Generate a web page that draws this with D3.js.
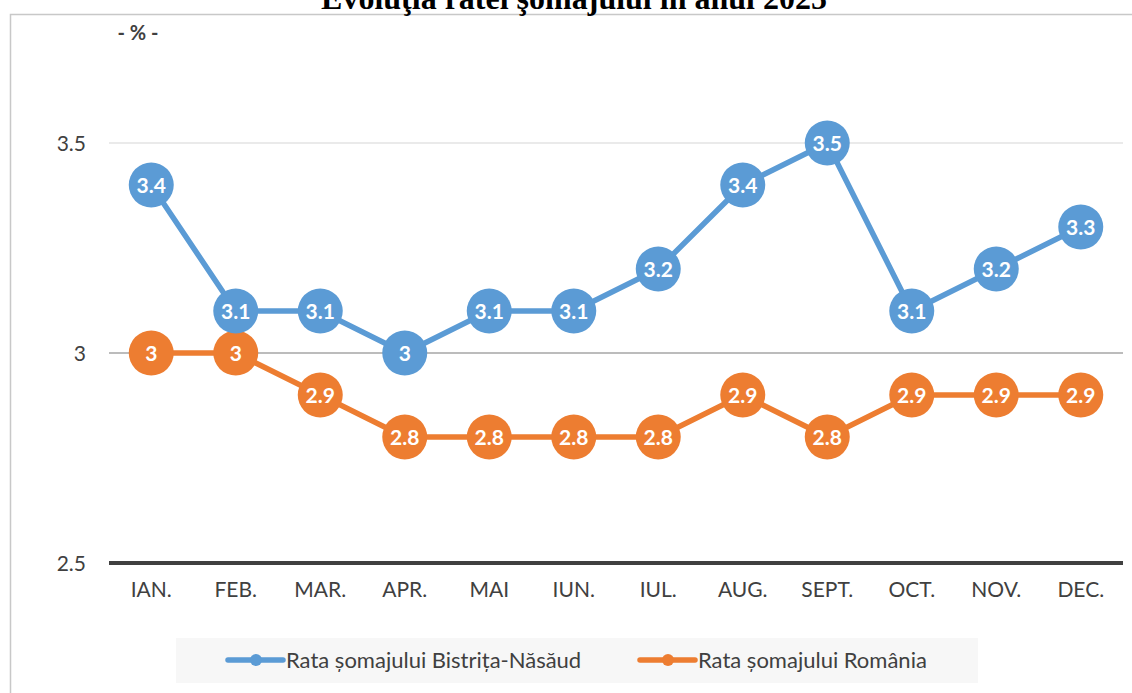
<!DOCTYPE html>
<html>
<head>
<meta charset="utf-8">
<script src="https://cdn.jsdelivr.net/npm/d3@7"></script>
<style>
  html, body { margin: 0; padding: 0; background: #fff; }
  svg { display: block; }
</style>
</head>
<body>
<svg id="chart" width="1132" height="693"></svg>
<script>
const months = ["IAN.", "FEB.", "MAR.", "APR.", "MAI", "IUN.", "IUL.", "AUG.", "SEPT.", "OCT.", "NOV.", "DEC."];
const bistritaValues = [3.4, 3.1, 3.1, 3.0, 3.1, 3.1, 3.2, 3.4, 3.5, 3.1, 3.2, 3.3];
const romaniaValues = [3.0, 3.0, 2.9, 2.8, 2.8, 2.8, 2.8, 2.9, 2.8, 2.9, 2.9, 2.9];
const yTicks = [2.5, 3, 3.5];
const seriesNames = ["Rata șomajului Bistrița-Năsăud", "Rata șomajului România"];
const seriesColors = ["#5B9BD5", "#ED7D31"];
const titleText = "Evoluţia ratei şomajului în anul 2025";
const unitText = "- % -";

const svg = d3.select("#chart");
const font = "Lato, 'Open Sans', sans-serif";

// chart border
svg.append("rect")
  .attr("x", 10.5).attr("y", 14.5)
  .attr("width", 1140).attr("height", 700)
  .attr("fill", "#fff").attr("stroke", "#c8c8c8").attr("stroke-width", 1.5);

// title (partly clipped at top, as in the source)
svg.append("text")
  .attr("x", 574).attr("y", 9)
  .attr("text-anchor", "middle")
  .attr("font-family", "'Liberation Serif', 'Times New Roman', serif")
  .attr("font-weight", "bold")
  .attr("font-size", 32)
  .attr("fill", "#000")
  .text(titleText);

// unit label
svg.append("text")
  .attr("x", 138).attr("y", 40)
  .attr("text-anchor", "middle")
  .attr("font-family", font)
  .attr("font-weight", "bold")
  .attr("font-size", 20)
  .attr("fill", "#404040")
  .text(unitText);

const x = d3.scaleBand().domain(months).range([109, 1123]).padding(0);
const y = d3.scaleLinear().domain([2.5, 3.5]).range([563, 143]);

// gridlines
const gridColor = {2.5: "#404040", 3: "#a6a6a6", 3.5: "#e3e3e3"};
const gridWidth = {2.5: 4, 3: 1.5, 3.5: 1.5};
svg.append("g").selectAll("line").data(yTicks.slice().reverse()).join("line")
  .attr("x1", 109).attr("x2", 1123)
  .attr("y1", d => y(d)).attr("y2", d => y(d))
  .attr("stroke", d => gridColor[d])
  .attr("stroke-width", d => gridWidth[d]);

// y axis labels
const yAxis = d3.axisLeft(y).tickValues(yTicks).tickSize(0).tickPadding(0).tickFormat(d3.format(".1~f"));
const yg = svg.append("g").attr("transform", "translate(86,0)").call(yAxis);
yg.select(".domain").remove();
yg.selectAll("text")
  .attr("font-family", font).attr("font-size", 21).attr("fill", "#404040")
  .attr("dy", "0.35em");

// x axis labels
const xAxis = d3.axisBottom(x).tickSize(0).tickPadding(0);
const xg = svg.append("g").attr("transform", "translate(0,590)").call(xAxis);
xg.select(".domain").remove();
xg.selectAll("text")
  .attr("font-family", font).attr("font-size", 21).attr("fill", "#404040")
  .attr("dy", "0.35em");

const line = d3.line().x((d, i) => x(months[i]) + x.bandwidth() / 2).y(d => y(d));

[romaniaValues, bistritaValues].forEach((vals, k) => {
  const color = k === 0 ? seriesColors[1] : seriesColors[0];
  const g = svg.append("g");
  g.append("path").datum(vals)
    .attr("d", line).attr("fill", "none")
    .attr("stroke", color).attr("stroke-width", 5.5)
    .attr("stroke-linejoin", "round");
  const pts = g.selectAll("g.pt").data(vals).join("g")
    .attr("transform", (d, i) => `translate(${x(months[i]) + x.bandwidth() / 2},${y(d)})`);
  pts.append("circle").attr("r", 22.5).attr("fill", color);
  pts.append("text")
    .attr("text-anchor", "middle").attr("dy", "0.36em")
    .attr("font-family", font).attr("font-weight", "bold")
    .attr("font-size", 21).attr("fill", "#fff")
    .text(d => d3.format(".1~f")(d));
});

// legend
const lg = svg.append("g");
lg.append("rect").attr("x", 176).attr("y", 638).attr("width", 802).attr("height", 45).attr("fill", "#f7f7f7");
const legendItems = [
  {name: seriesNames[0], color: seriesColors[0], x0: 228},
  {name: seriesNames[1], color: seriesColors[1], x0: 640}
];
legendItems.forEach(it => {
  lg.append("line").attr("x1", it.x0).attr("x2", it.x0 + 55)
    .attr("y1", 660).attr("y2", 660)
    .attr("stroke", it.color).attr("stroke-width", 5.5).attr("stroke-linecap", "round");
  lg.append("circle").attr("cx", it.x0 + 28).attr("cy", 660).attr("r", 6).attr("fill", it.color);
  lg.append("text").attr("x", it.x0 + 58).attr("y", 660).attr("dy", "0.35em")
    .attr("font-family", font).attr("font-size", 22).attr("fill", "#404040")
    .text(it.name);
});
</script>
</body>
</html>
